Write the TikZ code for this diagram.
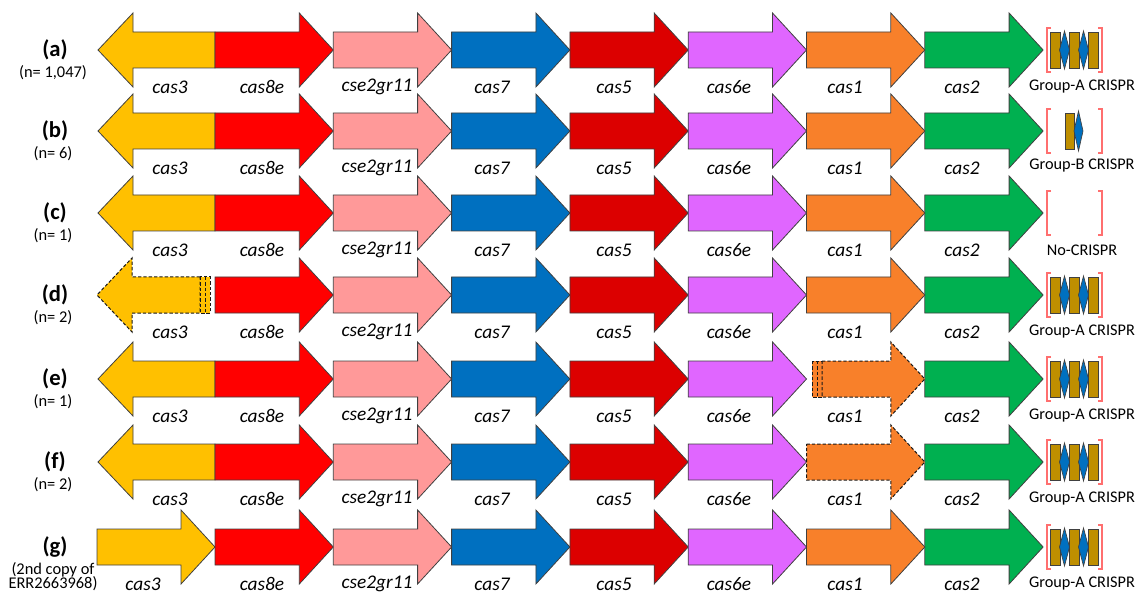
\documentclass[tikz,border=0pt]{standalone}
\usepackage{fontspec}
\setmainfont{Carlito}
\definecolor{c3}{HTML}{FFC000}
\definecolor{c8}{HTML}{FF0000}
\definecolor{cse}{HTML}{FF9999}
\definecolor{c7}{HTML}{0070C0}
\definecolor{c5}{HTML}{DC0000}
\definecolor{c6}{HTML}{E066FF}
\definecolor{c1}{HTML}{F8802A}
\definecolor{c2}{HTML}{00B050}
\definecolor{rep}{HTML}{BF8F00}
\definecolor{spc}{HTML}{0070C0}
\definecolor{brk}{HTML}{FF6F6F}
\tikzset{
 gene/.style={draw=black!75, line width=0.6pt},
 trunc/.style={draw=black!90, line width=0.75pt, dash pattern=on 2.5pt off 1.5pt},
 glabel/.style={font=\fontsize{14.5}{16}\selectfont\itshape, inner sep=0pt},
 clabel/.style={font=\fontsize{12.2}{14}\selectfont, inner sep=0pt},
 rowlabel/.style={font=\fontsize{17}{20}\selectfont\bfseries, inner sep=0pt},
 nlabel/.style={font=\fontsize{12.3}{14}\selectfont, inner sep=0pt},
 bracket/.style={draw=brk, line width=0.8pt},
 repeatbox/.style={draw=black!75, fill=rep, line width=0.5pt},
 spacer/.style={draw=black!75, fill=spc, line width=0.5pt},
}
\newcommand{\RArrow}[5][gene]{\path[#1, fill=#5] (#2,#4-18) -- (#3-34,#4-18) -- (#3-34,#4-37) -- (#3,#4) -- (#3-34,#4+37) -- (#3-34,#4+18) -- (#2,#4+18) -- cycle;}
\newcommand{\LArrow}[5][gene]{\path[#1, fill=#5] (#3,#4-18) -- (#2+35,#4-18) -- (#2+35,#4-37) -- (#2,#4) -- (#2+35,#4+37) -- (#2+35,#4+18) -- (#3,#4+18) -- cycle;}
\newcommand{\GLabel}[4]{\node[glabel] (#1) at (#2,#3+37) {#4};}
\newcommand{\Genes}[2]{%
 \RArrow{215}{333.3}{#2}{c8}\GLabel{#1-cas8e}{262}{#2}{cas8e}
 \RArrow{333.3}{451.6}{#2}{cse}\GLabel{#1-cse}{377}{#2}{cse2gr11}
 \RArrow{451.6}{569.9}{#2}{c7}\GLabel{#1-cas7}{492}{#2}{cas7}
 \RArrow{569.9}{688.2}{#2}{c5}\GLabel{#1-cas5}{614}{#2}{cas5}
 \RArrow{688.2}{806.5}{#2}{c6}\GLabel{#1-cas6e}{729}{#2}{cas6e}
 \RArrow{924.8}{1043.1}{#2}{c2}\GLabel{#1-cas2}{962}{#2}{cas2}
 \GLabel{#1-cas1}{845}{#2}{cas1}}
\newcommand{\Brackets}[1]{%
 \draw[bracket] (1051,#1-22) -- (1047,#1-22) -- (1047,#1+22) -- (1051,#1+22);
 \draw[bracket] (1098,#1-22) -- (1102,#1-22) -- (1102,#1+22) -- (1098,#1+22);}
\newcommand{\Diam}[4]{\path[spacer] (#1,#2-#4) -- (#1+#3,#2) -- (#1,#2+#4) -- (#1-#3,#2) -- cycle;}
\newcommand{\CrisprA}[2]{%
 \Brackets{#2}
 \path[repeatbox] (1050,#2-18) rectangle (1060,#2+18);
 \path[repeatbox] (1069,#2-18) rectangle (1079,#2+18);
 \path[repeatbox] (1088,#2-18) rectangle (1098,#2+18);
 \Diam{1064.5}{#2}{5}{19}
 \Diam{1083.5}{#2}{5}{19}
 \node[clabel] (#1-crispr) at (1082,#2+37) {Group-A CRISPR};}
\begin{document}
\begin{tikzpicture}[x=0.75pt,y=-0.75pt]
\useasboundingbox (0,0) rectangle (1142,595);
% row a
\node[rowlabel] (ra) at (55,50) {(a)};
\node[nlabel] (na) at (53,73) {(n= 1,047)};
\LArrow{98}{215}{50}{c3}\GLabel{a-cas3}{170}{50}{cas3}
\Genes{a}{50}
\RArrow{806.5}{924.8}{50}{c1}
\CrisprA{a}{50}
% row b
\node[rowlabel] (rb) at (55,131) {(b)};
\node[nlabel] (nb) at (53,154) {(n= 6)};
\LArrow{98}{215}{131}{c3}\GLabel{b-cas3}{170}{131}{cas3}
\Genes{b}{131}
\RArrow{806.5}{924.8}{131}{c1}
\Brackets{131}
\path[repeatbox] (1065,131-18) rectangle (1074,131+18);
\Diam{1078.5}{131}{4.5}{20}
\node[clabel] (b-crispr) at (1082,131+35) {Group-B CRISPR};
% row c
\node[rowlabel] (rc) at (55,213) {(c)};
\node[nlabel] (nc) at (53,236) {(n= 1)};
\LArrow{98}{215}{213}{c3}\GLabel{c-cas3}{170}{213}{cas3}
\Genes{c}{213}
\RArrow{806.5}{924.8}{213}{c1}
\Brackets{213}
\node[clabel] (c-crispr) at (1082,213+37) {No-CRISPR};
% row d
\node[rowlabel] (rd) at (55,295) {(d)};
\node[nlabel] (nd) at (53,318) {(n= 2)};
\LArrow[trunc]{97}{200}{295}{c3}
\path[trunc, fill=c3] (200,295-18) rectangle (205,295+18);
\path[trunc, fill=c3] (205,295-18) rectangle (210,295+18);
\GLabel{d-cas3}{170}{295}{cas3}
\Genes{d}{295}
\RArrow{806.5}{924.8}{295}{c1}
\CrisprA{d}{295}
% row e
\node[rowlabel] (re) at (55,379) {(e)};
\node[nlabel] (ne) at (53,402) {(n= 1)};
\LArrow{98}{215}{379}{c3}\GLabel{e-cas3}{170}{379}{cas3}
\Genes{e}{379}
\path[trunc, fill=c1] (812,379-18) rectangle (817,379+18);
\path[trunc, fill=c1] (817,379-18) rectangle (822,379+18);
\RArrow[trunc]{822}{924.8}{379}{c1}
\CrisprA{e}{379}
% row f
\node[rowlabel] (rf) at (55,462) {(f)};
\node[nlabel] (nf) at (53,485) {(n= 2)};
\LArrow{98}{215}{462}{c3}\GLabel{f-cas3}{170}{462}{cas3}
\Genes{f}{462}
\RArrow[trunc]{806.5}{924.8}{462}{c1}
\CrisprA{f}{462}
% row g
\node[rowlabel] (rg) at (55,547) {(g)};
\node[nlabel] (ng1) at (53,570) {(2nd copy of};
\node[nlabel] (ng2) at (53,584) {ERR2663968)};
\RArrow{97}{215}{547}{c3}\GLabel{g-cas3}{143}{547}{cas3}
\Genes{g}{547}
\RArrow{806.5}{924.8}{547}{c1}
\CrisprA{g}{547}
\end{tikzpicture}
\end{document}
